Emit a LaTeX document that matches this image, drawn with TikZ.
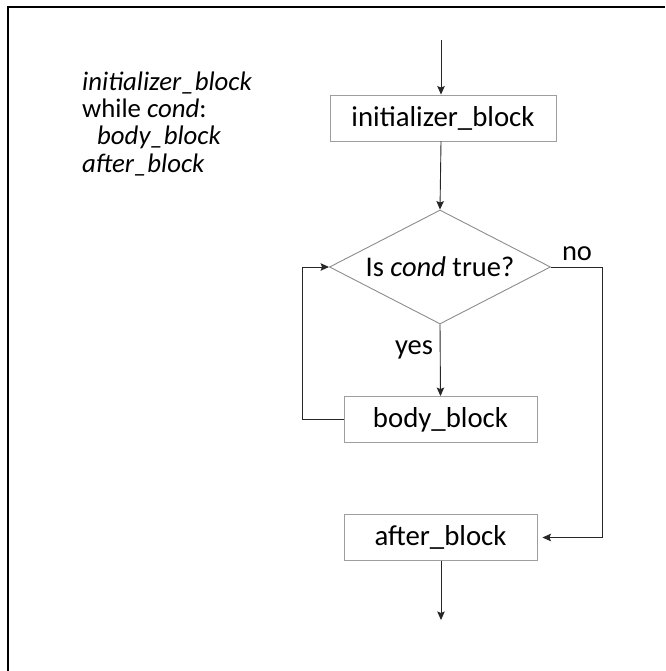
\documentclass[tikz,border=0pt]{standalone}
\usepackage{fontspec}
\setmainfont{Carlito}
\usetikzlibrary{arrows.meta,shapes.geometric}

\tikzset{
  flowbox/.style={draw=black!38, line width=0.9pt, rectangle, minimum height=46pt,
    inner sep=0pt, font=\fontsize{28.8}{34}\selectfont},
  decision/.style={draw=black!45, line width=0.9pt, diamond, aspect=1.94,
    minimum width=221pt, minimum height=114pt, inner sep=0pt,
    font=\fontsize{28.5}{34}\selectfont},
  conn/.style={draw=black!85, line width=0.9pt, -{Stealth[length=8.5pt,width=7.5pt,inset=1.5pt]}},
  tag/.style={font=\fontsize{28.5}{34}\selectfont, inner sep=0pt},
  code/.style={font=\fontsize{26.8}{30}\selectfont, anchor=base west, inner sep=0pt},
}

\begin{document}
\begin{tikzpicture}[x=1pt,y=-1pt]
\useasboundingbox (0,0) rectangle (665,671);

% outer frame (only its top and left edges fall inside the page)
\draw[line width=2pt] (7.5,671) -- (7.5,7.5) -- (665,7.5);

% pseudo-code listing
\node[code] (l1) at (82,91)  {\itshape initializer\_block};
\node[code] (l2) at (82,118) {while \textit{cond}:};
\node[code] (l3) at (97,145) {\itshape body\_block};
\node[code] (l4) at (82,172) {\itshape after\_block};

% flowchart
\coordinate (start) at (441,40);
\node[flowbox, minimum width=226pt] (init) at (443,118) {initializer\_block};
\node[decision] (cond) at (440,267) {Is \textit{cond} true?};
\node[flowbox, minimum width=193pt] (body) at (440.5,419.5) {body\_block};
\node[flowbox, minimum width=193pt] (after) at (440.5,537.5) {after\_block};
\coordinate (end) at (441,620);

\coordinate (loopx) at (302,0);
\coordinate (nox) at (602,0);

\draw[conn] (start) -- (start |- init.north);
\draw[conn] (start |- init.south) -- (cond.north);
\draw[conn] (cond.south) -- (body.north);
\draw[conn] (body.west) -| (loopx |- body.west) |- (cond.west);
\draw[conn] (cond.east) -| (nox |- after.east) -- ([xshift=5pt]after.east);
\draw[conn] (start |- after.south) -- (end);

\node[tag] (yes) at (414,350) {yes};
\node[tag] (no) at (577,254) {no};
\end{tikzpicture}
\end{document}
